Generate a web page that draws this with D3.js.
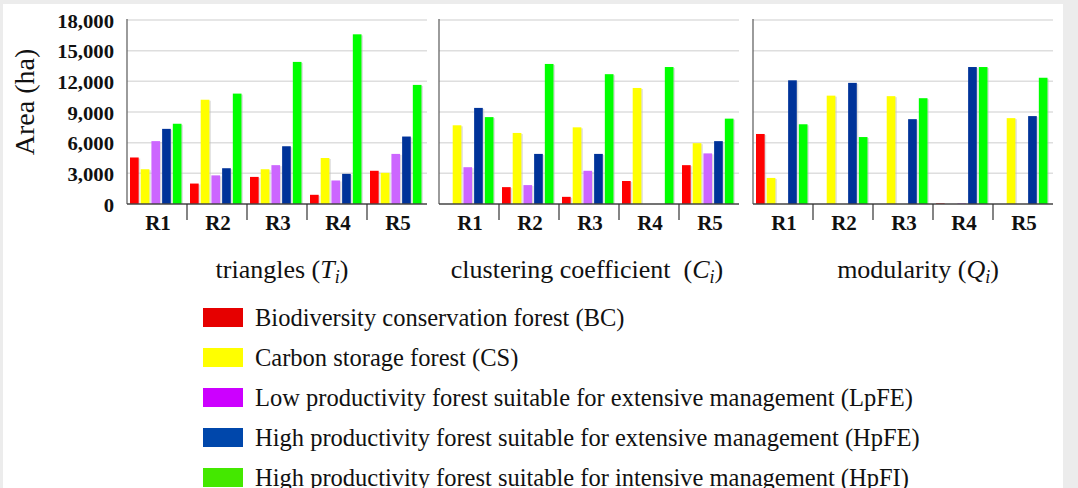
<!DOCTYPE html>
<html>
<head>
<meta charset="utf-8">
<script src="https://cdn.jsdelivr.net/npm/d3@7"></script>
<style>
  html, body { margin: 0; padding: 0; background: #ececec; }
  svg { display: block; }
  text { font-family: "Liberation Serif", "Times New Roman", serif; fill: #111; }
</style>
</head>
<body>
<svg id="chart" width="1078" height="488"></svg>
<script>
// Regions on the x axis of every panel
const regions = ["R1", "R2", "R3", "R4", "R5"];

// Forest function types (series)
const seriesKeys = ["BC", "CS", "LpFE", "HpFE", "HpFI"];
const seriesNames = [
  "Biodiversity conservation forest (BC)",
  "Carbon storage forest (CS)",
  "Low productivity forest suitable for extensive management (LpFE)",
  "High productivity forest suitable for extensive management (HpFE)",
  "High productivity forest suitable for intensive management (HpFI)"
];
const barColors = ["#ff0000", "#ffff00", "#cc66ff", "#003399", "#00ff00"];
const legendColors = ["#e60000", "#ffff00", "#cc00ff", "#0047ab", "#44e800"];

// Area (ha) per region, one array per series, for each connectivity index
const trianglesBC   = [4550, 2000, 2650, 900, 3250];
const trianglesCS   = [3400, 10200, 3400, 4500, 3050];
const trianglesLpFE = [6150, 2800, 3800, 2300, 4900];
const trianglesHpFE = [7350, 3500, 5650, 2950, 6600];
const trianglesHpFI = [7850, 10800, 13900, 16600, 11650];

const clusteringBC   = [0, 1650, 700, 2250, 3800];
const clusteringCS   = [7700, 6950, 7500, 11350, 5950];
const clusteringLpFE = [3600, 1850, 3250, 0, 4950];
const clusteringHpFE = [9400, 4900, 4900, 0, 6150];
const clusteringHpFI = [8500, 13700, 12700, 13400, 8350];

const modularityBC   = [6850, 0, 0, 60, 0];
const modularityCS   = [2550, 10600, 10550, 0, 8400];
const modularityLpFE = [0, 0, 0, 60, 0];
const modularityHpFE = [12100, 11850, 8300, 13400, 8600];
const modularityHpFI = [7800, 6550, 10350, 13400, 12350];

// Y axis ticks
const yTicks = [0, 3000, 6000, 9000, 12000, 15000, 18000];
const yMax = 18000;

// Panel titles: plain text, italic symbol, subscript
const panelTitles = [
  { text: "triangles\u00a0", sym: "T", sub: "i" },
  { text: "clustering coefficient\u00a0\u00a0", sym: "C", sub: "i" },
  { text: "modularity\u00a0", sym: "Q", sub: "i" }
];

const panels = [
  [trianglesBC, trianglesCS, trianglesLpFE, trianglesHpFE, trianglesHpFI],
  [clusteringBC, clusteringCS, clusteringLpFE, clusteringHpFE, clusteringHpFI],
  [modularityBC, modularityCS, modularityLpFE, modularityHpFE, modularityHpFI]
];

const svg = d3.select("#chart");

// white sheet
svg.append("rect").attr("x", 3).attr("y", 4).attr("width", 1060).attr("height", 484).attr("fill", "#ffffff");

const panelLeft = [127, 439, 753];
const panelWidth = 300;
const plotTop = 20, plotBottom = 204;

const y = d3.scaleLinear().domain([0, yMax]).range([plotBottom, plotTop]);

panels.forEach((series, p) => {
  const x0 = d3.scaleBand().domain(regions).range([panelLeft[p], panelLeft[p] + panelWidth]).padding(0);
  const x1 = d3.scaleBand().domain(seriesKeys).range([3, 54.5]).paddingInner(0.19).paddingOuter(0);
  const g = svg.append("g");

  // gridlines
  g.selectAll("line.grid").data(yTicks.slice(1)).join("line")
    .attr("x1", panelLeft[p]).attr("x2", panelLeft[p] + panelWidth)
    .attr("y1", d => y(d)).attr("y2", d => y(d))
    .attr("stroke", "#dedede").attr("stroke-width", 1.5);

  // bars with a faint shadow on the right
  const rows = [];
  regions.forEach((r, i) => seriesKeys.forEach((k, s) => rows.push({ r, k, s, v: series[s][i] })));
  const bars = rows.filter(d => d.v > 0);
  g.selectAll("rect.shadow").data(bars).join("rect")
    .attr("x", d => x0(d.r) + x1(d.k) + 1.5)
    .attr("y", d => y(d.v) + 1)
    .attr("width", x1.bandwidth())
    .attr("height", d => plotBottom - y(d.v) - 1)
    .attr("fill", "#bbbbbb").attr("opacity", 0.45);
  g.selectAll("rect.bar").data(bars).join("rect")
    .attr("x", d => x0(d.r) + x1(d.k))
    .attr("y", d => y(d.v))
    .attr("width", x1.bandwidth())
    .attr("height", d => plotBottom - y(d.v))
    .attr("fill", d => barColors[d.s]);

  // axis lines
  g.append("line").attr("x1", panelLeft[p]).attr("x2", panelLeft[p])
    .attr("y1", plotTop - 1).attr("y2", plotBottom).attr("stroke", "#666").attr("stroke-width", 1.3);
  g.append("line").attr("x1", panelLeft[p]).attr("x2", panelLeft[p] + panelWidth)
    .attr("y1", plotBottom).attr("y2", plotBottom).attr("stroke", "#444").attr("stroke-width", 1.3);

  // category separators
  g.selectAll("line.sep").data(regions.slice(1)).join("line")
    .attr("x1", d => x0(d)).attr("x2", d => x0(d))
    .attr("y1", plotBottom).attr("y2", plotBottom + 16)
    .attr("stroke", "#333").attr("stroke-width", 1.2);

  // category labels
  g.selectAll("text.cat").data(regions).join("text")
    .attr("transform", d => `translate(${x0(d) + x0.bandwidth() / 2 + 1},230) scale(1.05,1)`)
    .attr("text-anchor", "middle")
    .style("font-weight", "bold").style("font-size", "20px")
    .text(d => d);

  // panel title
  const t = panelTitles[p];
  const title = svg.append("text")
    .attr("x", [282, 587, 918][p]).attr("y", 278)
    .attr("text-anchor", "middle").style("font-size", "26px");
  title.append("tspan").text(t.text + "(");
  title.append("tspan").style("font-style", "italic").text(t.sym);
  title.append("tspan").style("font-style", "italic").style("font-size", "18px").attr("dy", 5).text(t.sub);
  title.append("tspan").attr("dy", -5).text(")");
});

// y axis labels (first panel)
const yAxis = d3.axisLeft(y).tickValues(yTicks).tickSize(0).tickPadding(0).tickFormat(d3.format(","));
const ya = svg.append("g").attr("transform", "translate(114,0)").call(yAxis);
ya.select(".domain").remove();
ya.selectAll("text")
  .attr("x", 0).attr("y", 0).attr("dy", null)
  .attr("transform", "translate(0,7) scale(1.15,1)")
  .style("font-family", "'Liberation Serif', serif")
  .style("font-weight", "bold").style("font-size", "18px").style("fill", "#111");

// y axis title
svg.append("text")
  .attr("transform", "translate(34,102) rotate(-90)")
  .attr("text-anchor", "middle")
  .style("font-size", "28px")
  .text("Area (ha)");

// legend
const legend = svg.append("g");
const items = legend.selectAll("g").data(seriesNames).join("g")
  .attr("transform", (d, i) => `translate(203,${308 + i * 40})`);
items.append("rect").attr("width", 40).attr("height", 19)
  .attr("fill", (d, i) => legendColors[i]);
items.append("text").attr("x", 52).attr("y", 18)
  .style("font-size", "24.5px").text(d => d);
</script>
</body>
</html>
